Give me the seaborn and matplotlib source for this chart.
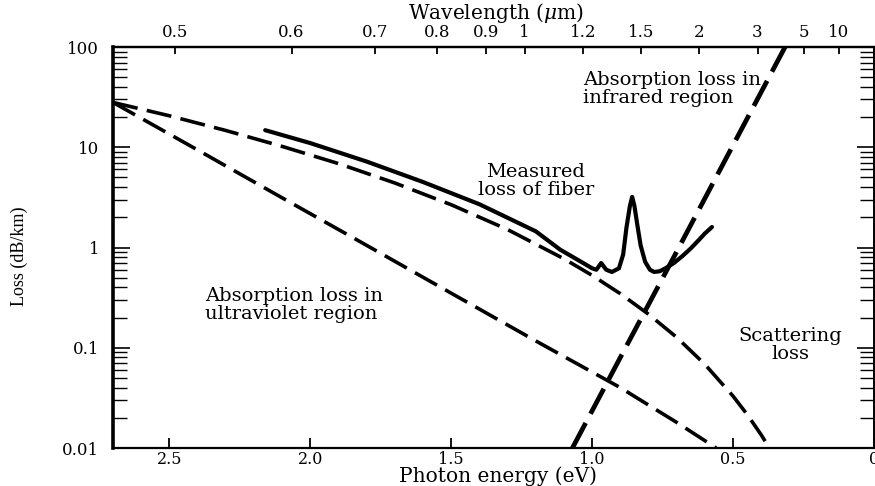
import matplotlib
matplotlib.use("Agg")
import matplotlib.pyplot as plt
import seaborn as sns
from matplotlib.ticker import FixedLocator, FixedFormatter, NullLocator, LogLocator, NullFormatter

# Photon energy (eV) / loss (dB/km) for each curve
uv_energy = [2.70, 2.40, 2.10, 1.80, 1.50, 1.20, 0.90, 0.70, 0.56]
uv_loss = [28.0, 9.4, 3.13, 1.05, 0.35, 0.117, 0.040, 0.018, 0.010]

scatter_energy = [2.70, 2.50, 2.30, 2.10, 1.90, 1.70, 1.50, 1.30, 1.10, 1.00,
                  0.90, 0.80, 0.70, 0.60, 0.50, 0.45, 0.40, 0.37]
scatter_loss = [28.0, 20.6, 14.7, 10.2, 6.87, 4.40, 2.67, 1.51, 0.772, 0.527,
                0.346, 0.216, 0.127, 0.0683, 0.0329, 0.0216, 0.0135, 0.00988]

ir_energy = [1.07, 0.90, 0.70, 0.50, 0.31]
ir_loss = [0.010, 0.080, 0.91, 10.5, 107.0]

measured_energy = [2.16, 2.00, 1.80, 1.60, 1.40, 1.20, 1.113, 1.05, 1.00, 0.985,
                   0.968, 0.950, 0.930, 0.905, 0.890, 0.878, 0.866, 0.858, 0.850,
                   0.840, 0.828, 0.812, 0.795, 0.780, 0.760, 0.740, 0.710, 0.680,
                   0.650, 0.620, 0.600, 0.575]
measured_loss = [14.8, 11.0, 7.2, 4.5, 2.7, 1.45, 0.95, 0.75, 0.62, 0.60,
                 0.70, 0.60, 0.57, 0.62, 0.85, 1.6, 2.6, 3.2, 2.6,
                 1.7, 1.05, 0.72, 0.60, 0.57, 0.58, 0.62, 0.70, 0.82,
                 0.98, 1.2, 1.38, 1.6]

energy_ticks = [2.5, 2.0, 1.5, 1.0, 0.5, 0.0]
energy_labels = ["2.5", "2.0", "1.5", "1.0", "0.5", "0"]
wavelength_ticks = [0.5, 0.6, 0.7, 0.8, 0.9, 1, 1.2, 1.5, 2, 3, 5, 10]
wavelength_labels = ["0.5", "0.6", "0.7", "0.8", "0.9", "1", "1.2", "1.5", "2", "3", "5", "10"]
loss_ticks = [0.01, 0.1, 1, 10, 100]
loss_labels = ["0.01", "0.1", "1", "10", "100"]

sns.set_theme(style="ticks")
plt.rcParams["font.family"] = ["DejaVu Serif"]
plt.rcParams["mathtext.fontset"] = "dejavuserif"
plt.rcParams["text.color"] = "black"
plt.rcParams["xtick.color"] = "black"
plt.rcParams["ytick.color"] = "black"
plt.rcParams["xtick.labelcolor"] = "black"
plt.rcParams["ytick.labelcolor"] = "black"

W, H = 875, 486
fig = plt.figure(figsize=(W / 100, H / 100), dpi=100)
fig.patch.set_facecolor("white")
ax = fig.add_axes([113 / W, 1 - 448 / H, (874 - 113) / W, (448 - 47) / H])
ax.set_facecolor("white")

dash = (0, (7, 2.6))
sns.lineplot(x=uv_energy, y=uv_loss, ax=ax, color="black", lw=2.6,
             linestyle=dash, sort=False, estimator=None)
sns.lineplot(x=scatter_energy, y=scatter_loss, ax=ax, color="black", lw=2.6,
             linestyle=dash, sort=False, estimator=None)
sns.lineplot(x=ir_energy, y=ir_loss, ax=ax, color="black", lw=3.4,
             linestyle=(0, (6, 2.2)), sort=False, estimator=None)
sns.lineplot(x=measured_energy, y=measured_loss, ax=ax, color="black", lw=3.0,
             sort=False, estimator=None)

ax.set_yscale("log")
ax.set_xlim(2.7, 0.0)
ax.set_ylim(0.01, 100)
ax.set_xlabel("")
ax.set_ylabel("")

# bottom axis: photon energy
ax.xaxis.set_major_locator(FixedLocator(energy_ticks))
ax.xaxis.set_major_formatter(FixedFormatter(energy_labels))
ax.xaxis.set_minor_locator(NullLocator())
ax.tick_params(axis="x", which="major", direction="in", length=7, width=1.3,
               top=False, labelsize=11.5, pad=2)

# left/right axis: loss
ax.yaxis.set_major_locator(FixedLocator(loss_ticks))
ax.yaxis.set_major_formatter(FixedFormatter(loss_labels))
ax.yaxis.set_minor_locator(LogLocator(base=10, subs=[2, 3, 4, 5, 6, 7, 8, 9]))
ax.yaxis.set_minor_formatter(NullFormatter())
ax.tick_params(axis="y", which="major", direction="in", length=12, width=1.2,
               left=True, right=True, labelsize=12, pad=10)
ax.tick_params(axis="y", which="minor", direction="in", length=10, width=1.0,
               left=True, right=True)

# top axis: wavelength
ax2 = ax.twiny()
ax2.set_xlim(ax.get_xlim())
ax2.xaxis.set_major_locator(FixedLocator([1.24 / w for w in wavelength_ticks]))
ax2.xaxis.set_major_formatter(FixedFormatter(wavelength_labels))
ax2.xaxis.set_minor_locator(NullLocator())
ax2.tick_params(axis="x", which="major", direction="in", length=5, width=1.3,
                labelsize=12, pad=4)

for a in (ax, ax2):
    for side in ("left", "right", "top", "bottom"):
        a.spines[side].set_color("black")
ax.spines["left"].set_linewidth(2.6)
ax.spines["bottom"].set_linewidth(1.6)
ax.spines["right"].set_linewidth(1.4)
ax.spines["top"].set_linewidth(1.6)
for side in ("left", "right", "bottom"):
    ax2.spines[side].set_visible(False)
ax2.spines["top"].set_linewidth(1.6)

fig.text(496 / W, 1 - 13 / H, r"Wavelength ($\mu$m)", ha="center", va="center",
         fontsize=14.5)
fig.text(498 / W, 1 - 476 / H, "Photon energy (eV)", ha="center", va="center",
         fontsize=14.5)
fig.text(19 / W, 1 - 256 / H, "Loss (dB/km)", rotation=90, ha="center", va="center",
         fontsize=13, family=["Liberation Serif"])

note = dict(fontsize=14, linespacing=1.0)
ax.text(1.032, 58, "Absorption loss in\ninfrared region", ha="left", va="top", **note)
ax.text(1.20, 7.0, "Measured\nloss of fiber", ha="center", va="top", **note)
ax.text(2.372, 0.40, "Absorption loss in\nultraviolet region", ha="left", va="top", **note)
ax.text(0.298, 0.16, "Scattering\nloss", ha="center", va="top", **note)

fig.savefig("out.png", dpi=100, facecolor="white")
